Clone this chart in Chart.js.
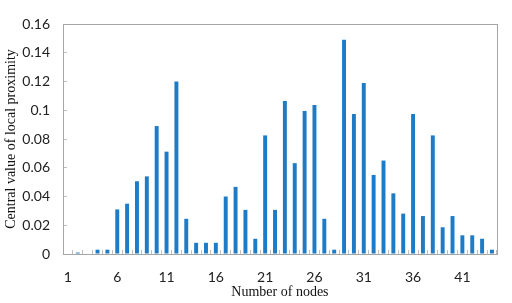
<!DOCTYPE html>
<html>
<head>
<meta charset="utf-8">
<script src="https://cdn.jsdelivr.net/npm/chart.js@4/dist/chart.umd.min.js"></script>
<style>
html,body{margin:0;padding:0;background:#fff;}
#wrap{width:512px;height:303px;position:relative;}
</style>
</head>
<body>
<div id="wrap"><canvas id="c" width="512" height="303"></canvas></div>
<script>
const categories = Array.from({length: 44}, (_, i) => String(i + 1));
const proximity = [
  0, 0.001, 0, 0.003, 0.003, 0.031, 0.035, 0.0506, 0.054, 0.089,
  0.0712, 0.120, 0.0245, 0.0078, 0.0078, 0.0078, 0.040, 0.0467, 0.0307, 0.0106,
  0.0825, 0.0307, 0.1065, 0.0632, 0.0995, 0.1037, 0.0245, 0.003, 0.149, 0.0974,
  0.119, 0.055, 0.065, 0.0422, 0.0281, 0.0974, 0.0264, 0.0825, 0.0186, 0.0264,
  0.013, 0.013, 0.0106, 0.003
];
const yTicks = [0, 0.02, 0.04, 0.06, 0.08, 0.1, 0.12, 0.14, 0.16];

const boxPlugin = {
  id: 'box',
  afterDraw(chart) {
    const a = chart.chartArea, ctx = chart.ctx;
    ctx.save();
    ctx.strokeStyle = '#a6a6a6';
    ctx.lineWidth = 1;
    ctx.strokeRect(Math.round(a.left) + 0.5, Math.round(a.top) + 0.5, Math.round(a.right - a.left), Math.round(a.bottom - a.top));
    ctx.restore();
  }
};

new Chart(document.getElementById('c'), {
  type: 'bar',
  data: {
    labels: categories,
    datasets: [{
      data: proximity,
      backgroundColor: '#1e7bc5',
      categoryPercentage: 1,
      barPercentage: 0.4
    }]
  },
  options: {
    responsive: false,
    animation: false,
    layout: { padding: { top: 7, right: 3, left: 0, bottom: 0 } },
    plugins: { legend: { display: false }, tooltip: { enabled: false } },
    scales: {
      x: {
        offset: true,
        grid: { offset: true, drawOnChartArea: false, drawTicks: true, tickLength: -4, color: '#bfbfbf' },
        border: { color: '#a6a6a6' },
        ticks: {
          autoSkip: false, maxRotation: 0, padding: 20,
          color: '#222', font: { family: 'Lato', size: 14, lineHeight: 1 },
          callback: (v, i) => (i % 5 === 0 ? categories[i] : '')
        },
        title: { display: true, text: 'Number of nodes', color: '#111', font: { family: 'Liberation Serif', size: 14 }, padding: { top: 0, bottom: 2 } },
        afterFit: s => { s.height = 49; }
      },
      y: {
        min: 0, max: 0.16,
        afterBuildTicks: s => { s.ticks = yTicks.map(v => ({ value: v })); },
        grid: { drawOnChartArea: false, drawTicks: true, tickLength: -4, color: '#bfbfbf' },
        border: { color: '#a6a6a6' },
        ticks: {
          padding: 17, color: '#222', font: { family: 'Lato', size: 14, lineHeight: 1 },
          callback: v => String(+(+v).toFixed(2))
        },
        title: { display: true, text: 'Central value of local proximity', color: '#111', font: { family: 'Liberation Serif', size: 14 }, padding: { top: 3, bottom: 0 } },
        afterFit: s => { s.width = 63; }
      }
    }
  },
  plugins: [boxPlugin]
});
</script>
</body>
</html>
